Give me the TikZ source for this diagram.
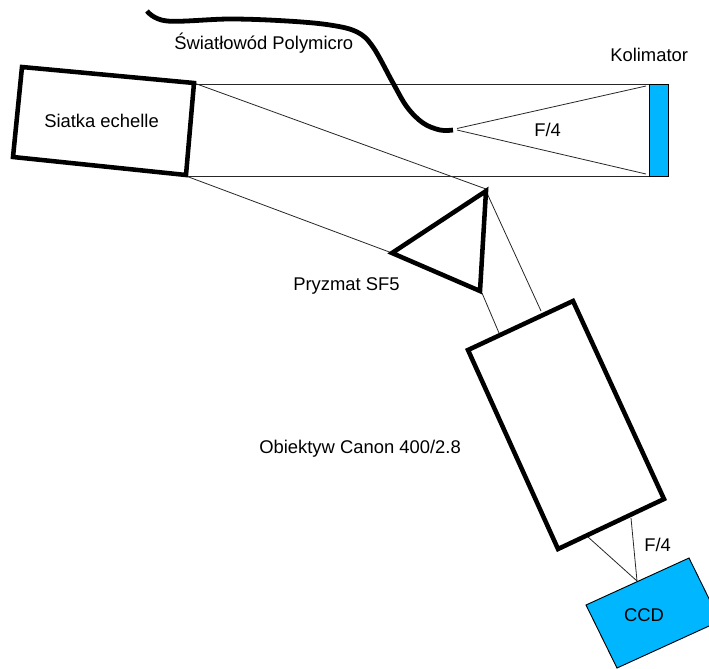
\documentclass[tikz,border=0pt]{standalone}
\usepackage{fontspec}
\setmainfont{Liberation Sans}
\definecolor{detblue}{RGB}{0,183,255}

\begin{document}
\begin{tikzpicture}[
  x=0.75pt, y=-0.75pt,
  part/.style={draw, line width=3.4pt, line join=miter},
  beam/.style={draw, line width=0.6pt, black!85},
  sensor/.style={draw, line width=0.7pt, fill=detblue},
  label/.style={inner sep=0pt, font=\fontsize{13.8}{16}\selectfont},
]
\useasboundingbox (0,0) rectangle (709,668);
\clip (0,0) rectangle (709,668);

% grating, prism, lens
\coordinate (grA) at (22,67);
\coordinate (grB) at (194,83);
\coordinate (grC) at (186,175);
\coordinate (grD) at (13,157);
\coordinate (prA) at (486,191);
\coordinate (prB) at (392,253);
\coordinate (prC) at (480,291);
\coordinate (lensA) at (468,350);
\coordinate (lensB) at (573,301);
\coordinate (lensC) at (664,499);
\coordinate (lensD) at (558,549);
\coordinate (fibreEnd) at (453,130);
\coordinate (focus) at (637,581);

% beams
\coordinate (colTop) at (649,84);
\coordinate (colBot) at (649,176);
\draw[beam] (grB) ++(0,1) -- (colTop);
\draw[beam] (grC) ++(0,1) -- (colBot);
\draw[beam] (457,128.5) -- (646,86);
\draw[beam] (457,130) -- (646,174);
\draw[beam] (grB) -- (486,189);
\draw[beam] (grC) ++(0,1) -- (prB);
\draw[beam] (prA) -- (541,311);
\draw[beam] (482,293) -- (499,333);
\draw[beam] (588,537) -- (focus);
\draw[beam] (631,518) -- (focus);

\draw[part] (grA) -- (grB) -- (grC) -- (grD) -- cycle;
\draw[part] (prA) -- (prB) -- (prC) -- cycle;
\draw[part] (lensA) -- (lensB) -- (lensC) -- (lensD) -- cycle;

% collimator and detector
\draw[sensor] (colTop) rectangle (668,176);
\draw[sensor] (586,605) -- (689,558) -- (720,621) -- (617,668) -- cycle;

% fibre
\draw[line width=3.6pt] plot[smooth, tension=0.6] coordinates {
  (147,11) (167,21) (230,19) (287,21) (330,25) (357,32) (373,47)
  (393,83) (407,107) (423,123) (440,130) (fibreEnd)};

\node[label, anchor=west] (fibreLab) at (174,43) {Światłowód Polymicro};
\node[label, anchor=west] (colLab) at (610,55) {Kolimator};
\node[label, anchor=west] (gratingLab) at (44,121) {Siatka echelle};
\node[label, anchor=west] (fTop) at (534,130) {F/4};
\node[label, anchor=west] (prismLab) at (293,286) {Pryzmat SF5};
\node[label, anchor=west] (lensLab) at (259,449) {Obiektyw Canon 400/2.8};
\node[label, anchor=west] (fBot) at (644,545) {F/4};
\node[label] (ccdLab) at (644,615) {CCD};
\end{tikzpicture}
\end{document}
